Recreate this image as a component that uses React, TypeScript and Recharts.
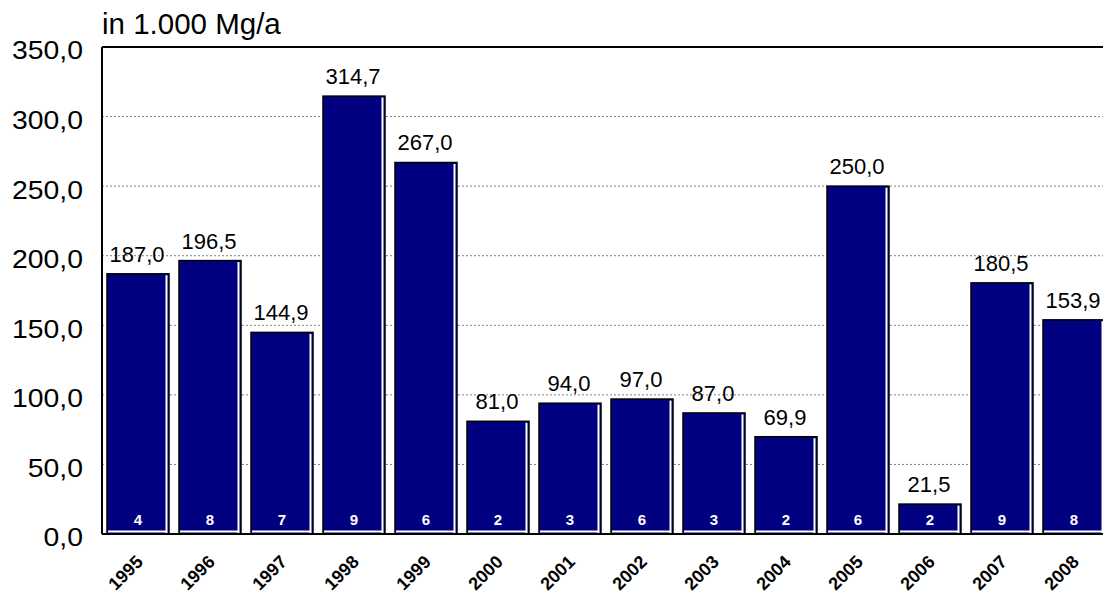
import React from 'react';
import { BarChart, Bar, XAxis, YAxis, CartesianGrid, ReferenceLine, LabelList } from 'recharts';

const years = ['1995', '1996', '1997', '1998', '1999', '2000', '2001', '2002', '2003', '2004', '2005', '2006', '2007', '2008'];
const amounts = [187.0, 196.5, 144.9, 314.7, 267.0, 81.0, 94.0, 97.0, 87.0, 69.9, 250.0, 21.5, 180.5, 153.9];
const counts = [4, 8, 7, 9, 6, 2, 3, 6, 3, 2, 6, 2, 9, 8];
const yTicks = [0, 50, 100, 150, 200, 250, 300, 350];
const unitTitle = 'in 1.000 Mg/a';

const data = years.map((year, i) => ({ year, amount: amounts[i], count: counts[i] }));

const FONT = '"Liberation Sans", Arial, sans-serif';
const fmt = (v: number) => v.toFixed(1).replace('.', ',');

const BarShape = (p: any) => {
  const { x, y, width, height } = p;
  if (height <= 0) return null;
  return (
    <g>
      <rect x={x} y={y} width={width} height={height} fill="#000080" stroke="#000" strokeWidth={1.5} />
      <line x1={x + width - 2.5} y1={y + 1.5} x2={x + width - 2.5} y2={y + height - 1} stroke="#fff" strokeWidth={2} />
      <line x1={x + 1} y1={y + height - 2.5} x2={x + width - 2.5} y2={y + height - 2.5} stroke="#fff" strokeWidth={2} />
    </g>
  );
};

const YTick = (p: any) => {
  const { x, y, payload } = p;
  return (
    <text transform={`translate(${x},${y + 3}) scale(1.07,1)`} dy="0.355em" textAnchor="end" fontFamily={FONT} fontSize={26.5} fill="#000">
      {fmt(payload.value)}
    </text>
  );
};

const XTick = (p: any) => {
  const { x, y, payload } = p;
  return (
    <text
      transform={`translate(${x + 6},${y + 29}) rotate(-45)`}
      textAnchor="end"
      fontFamily={FONT}
      fontSize={18}
      fontWeight="bold"
      fill="#000"
    >
      {payload.value}
    </text>
  );
};

const TopLabel = (p: any) => {
  const { x, y, width, value } = p;
  return (
    <text x={x + width / 2 - 1} y={y - 12} textAnchor="middle" fontFamily={FONT} fontSize={22} fill="#000">
      {fmt(value)}
    </text>
  );
};

const CountLabel = (p: any) => {
  const { x, y, width, height, value } = p;
  return (
    <text x={x + width / 2} y={y + height - 9} textAnchor="middle" fontFamily={FONT} fontSize={15} fontWeight="bold" fill="#fff">
      {value}
    </text>
  );
};

export default function App() {
  return (
    <div style={{ position: 'absolute', left: 0, top: 0, width: 1103, height: 596, overflow: 'hidden', background: '#fff' }}>
      <BarChart width={1120} height={596} data={data} margin={{ top: 47, right: 10, bottom: 0, left: 0 }} barSize={62}>
        <CartesianGrid vertical={false} stroke="#808080" strokeDasharray="2 2" />
        <XAxis
          dataKey="year"
          height={62}
          tickLine={false}
          tickSize={0}
          tickMargin={0}
          interval={0}
          axisLine={{ stroke: '#000', strokeWidth: 2 }}
          tick={<XTick />}
        />
        <YAxis
          width={102}
          domain={[0, 350]}
          ticks={yTicks}
          tickLine={false}
          tickSize={0}
          tickMargin={19}
          axisLine={{ stroke: '#000', strokeWidth: 2 }}
          tick={<YTick />}
        />
        <ReferenceLine y={350} stroke="#000" strokeWidth={2} />
        <Bar dataKey="amount" shape={<BarShape />} isAnimationActive={false}>
          <LabelList dataKey="amount" content={<TopLabel />} />
          <LabelList dataKey="count" content={<CountLabel />} />
        </Bar>
      </BarChart>
      <svg width={1103} height={596} style={{ position: 'absolute', left: 0, top: 0, pointerEvents: 'none' }}>
        <text x={102} y={34} fontFamily={FONT} fontSize={29.5} fill="#000">
          {unitTitle}
        </text>
      </svg>
    </div>
  );
}
